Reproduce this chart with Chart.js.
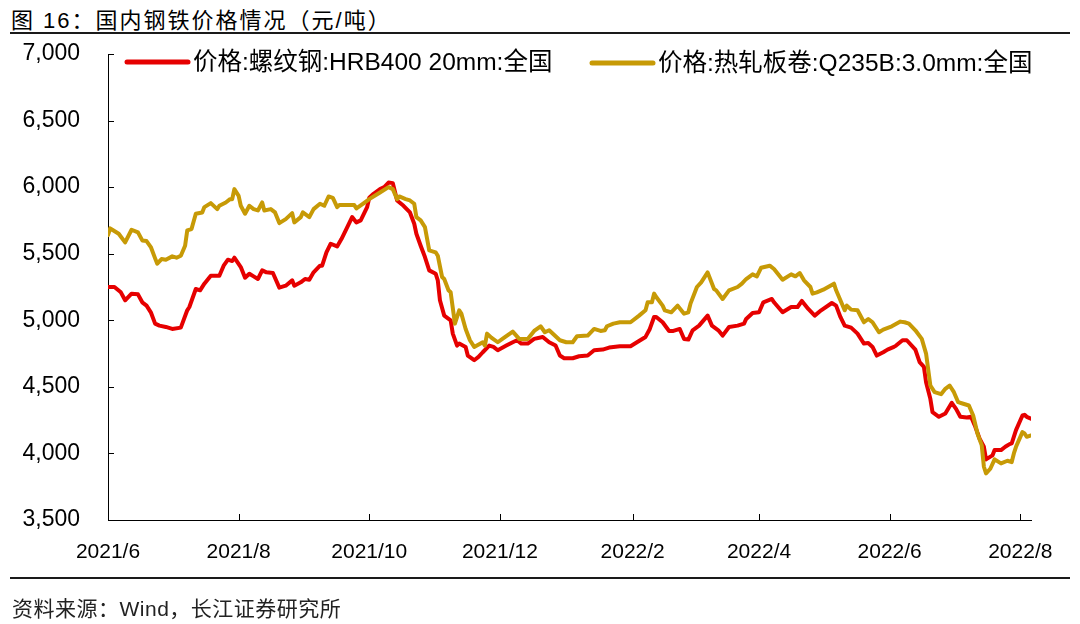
<!DOCTYPE html>
<html>
<head>
<meta charset="utf-8">
<script src="https://cdn.jsdelivr.net/npm/chart.js@4/dist/chart.umd.min.js"></script>
<style>
    body { margin: 0; background: #fff; width: 1080px; height: 624px; overflow: hidden; position: relative; font-family: "Liberation Sans", "Noto Sans CJK SC", sans-serif; }
    #title { position: absolute; left: 11px; top: 2px; font-size: 22px; letter-spacing: 2px; color: #000; white-space: pre; }
    #topline { position: absolute; left: 10px; top: 32px; width: 1060px; height: 2px; background: #1a1a1a; }
    #bottomline { position: absolute; left: 10px; top: 577px; width: 1060px; height: 2px; background: #1a1a1a; }
    #source { position: absolute; left: 12px; top: 592px; font-size: 21px; letter-spacing: 0.5px; color: #222; }
    #wrap { position: absolute; left: 0; top: 0; width: 1080px; height: 624px; }
</style>
</head>
<body>
<div id="title">图 16：国内钢铁价格情况（元/吨）</div>
<div id="topline"></div>
<div id="wrap"><canvas id="steelChart"></canvas></div>
<div id="bottomline"></div>
<div id="source">资料来源：Wind，长江证券研究所</div>
<script>
    // x values are days counted from 2021-06-01
    const tickDays = [0, 61, 122, 183, 245, 304, 365, 426];
    const tickLabels = ['2021/6', '2021/8', '2021/10', '2021/12', '2022/2', '2022/4', '2022/6', '2022/8'];
    const yTicks = [3500, 4000, 4500, 5000, 5500, 6000, 6500, 7000];

    const seriesNames = ['价格:螺纹钢:HRB400 20mm:全国', '价格:热轧板卷:Q235B:3.0mm:全国'];

    // 螺纹钢
    const rebarDays = [0,3,6,8,11,14,16,18,20,22,24,27,30,34,37,38,41,43,45,48,52,54,56,58,59,62,64,66,68,70,72,74,77,80,83,86,87,90,92,94,96,99,100,102,104,107,109,111,114,116,118,121,122,124,127,129,131,133,135,138,141,143,144,146,148,150,153,154,155,157,160,161,163,164,167,168,171,173,175,178,180,182,186,189,191,193,196,199,203,206,209,211,213,217,220,224,227,231,234,239,244,247,251,253,255,256,259,262,264,267,269,271,273,276,280,282,285,287,290,294,297,298,301,304,306,310,311,315,319,322,324,327,330,333,338,340,342,344,347,350,353,355,357,359,362,364,367,368,371,373,377,379,381,382,384,385,388,391,394,396,398,401,403,405,407,409,410,413,414,417,419,421,422,424,427,428,429,431];
    const rebarPrice = [5250,5250,5210,5150,5200,5195,5135,5110,5060,4975,4960,4950,4935,4945,5075,5100,5235,5225,5275,5335,5335,5410,5455,5445,5470,5400,5320,5350,5330,5310,5375,5360,5355,5245,5260,5300,5260,5285,5310,5305,5360,5410,5410,5510,5575,5555,5610,5675,5775,5735,5750,5850,5920,5950,5985,6000,6035,6030,5900,5860,5810,5725,5650,5560,5475,5375,5350,5300,5150,5035,5000,4900,4810,4825,4800,4735,4700,4725,4760,4810,4800,4775,4810,4835,4850,4825,4825,4860,4875,4835,4810,4735,4715,4715,4730,4735,4775,4780,4795,4805,4805,4835,4875,4935,5025,5025,4985,4920,4920,4935,4860,4855,4925,4960,5035,4960,4925,4885,4950,4960,4975,5010,5055,5060,5135,5160,5135,5060,5100,5100,5145,5085,5035,5075,5130,5110,5025,4960,4945,4900,4825,4830,4800,4735,4760,4780,4800,4810,4850,4850,4780,4685,4650,4535,4410,4310,4275,4300,4380,4335,4275,4270,4275,4200,4110,4050,3955,3985,4025,4025,4050,4070,4075,4175,4285,4290,4275,4260];

    // 热轧板卷
    const hrcDays = [0,1,2,5,8,11,14,16,18,20,22,23,25,27,30,32,34,36,37,39,41,44,45,48,51,52,55,57,58,59,61,62,64,66,68,70,72,73,76,78,80,83,86,87,90,91,94,96,99,101,103,105,107,108,115,116,119,122,127,131,133,135,136,139,141,143,144,146,148,150,153,154,156,157,159,160,162,164,165,167,169,171,175,176,177,179,182,185,189,192,196,199,202,204,206,209,211,214,217,219,224,227,230,232,233,236,239,244,248,251,252,254,255,256,259,260,263,266,269,271,272,275,277,280,283,284,287,290,294,296,298,301,303,305,309,311,315,319,321,323,325,328,329,331,334,339,340,342,344,345,347,350,353,355,357,360,362,366,370,372,374,377,380,382,384,386,389,391,393,395,397,399,402,404,406,408,409,410,412,414,417,420,422,423,424,427,428,429,431];
    const hrcPrice = [5640,5690,5680,5650,5585,5680,5660,5600,5595,5550,5465,5425,5460,5455,5480,5470,5485,5560,5675,5685,5800,5810,5850,5880,5835,5860,5885,5910,5910,5985,5935,5860,5800,5860,5835,5825,5885,5825,5835,5810,5730,5760,5805,5735,5775,5810,5775,5835,5875,5860,5930,5920,5850,5865,5865,5840,5875,5910,5960,6000,5985,5910,5930,5910,5900,5875,5775,5750,5700,5525,5510,5485,5325,5310,5225,5210,4975,5075,5050,4935,4850,4800,4835,4810,4900,4870,4835,4870,4915,4860,4860,4920,4955,4910,4925,4880,4850,4835,4835,4880,4885,4935,4920,4925,4955,4975,4985,4985,5035,5075,5135,5135,5200,5175,5110,5075,5060,5110,5050,5060,5125,5250,5285,5360,5235,5225,5160,5225,5250,5275,5310,5345,5330,5395,5410,5385,5305,5345,5330,5355,5300,5250,5200,5210,5230,5275,5225,5150,5075,5110,5080,5075,4985,5010,4985,4910,4930,4955,4990,4985,4975,4925,4860,4750,4510,4460,4445,4485,4510,4460,4385,4375,4360,4285,4150,4060,3900,3850,3885,3955,3925,3945,3935,4000,4050,4160,4150,4125,4135];

    const colors = ['#e60000', '#c79a06'];

    function toPoints(days, values) {
        return days.map((d, i) => ({ x: d, y: values[i] }));
    }

    // legend drawn inside the plot, plus short inward tick marks
    const decorPlugin = {
        id: 'decor',
        afterDraw(chart) {
            const ctx = chart.ctx;
            const area = chart.chartArea;
            const xs = chart.scales.x;
            const ys = chart.scales.y;
            ctx.save();
            ctx.strokeStyle = '#000';
            ctx.lineWidth = 1;
            yTicks.forEach(v => {
                const py = Math.round(ys.getPixelForValue(v)) + 0.5;
                ctx.beginPath();
                ctx.moveTo(area.left, py);
                ctx.lineTo(area.left + 6, py);
                ctx.stroke();
            });
            tickDays.forEach(d => {
                const px = Math.round(xs.getPixelForValue(d)) + 0.5;
                ctx.beginPath();
                ctx.moveTo(px, area.bottom);
                ctx.lineTo(px, area.bottom - 6);
                ctx.stroke();
            });

            const items = [
                { x: area.left + 19, y: 62 },
                { x: area.left + 484, y: 63 }
            ];
            ctx.font = '24.5px "Liberation Sans", "Noto Sans CJK SC", sans-serif';
            ctx.textBaseline = 'middle';
            ctx.fillStyle = '#000';
            items.forEach((it, i) => {
                ctx.strokeStyle = colors[i];
                ctx.lineWidth = 5;
                ctx.lineCap = 'round';
                ctx.beginPath();
                ctx.moveTo(it.x, it.y);
                ctx.lineTo(it.x + 61, it.y);
                ctx.stroke();
                ctx.fillText(seriesNames[i], it.x + 66, it.y + 1);
            });
            ctx.restore();
        }
    };

    const ctx = document.getElementById('steelChart').getContext('2d');
    new Chart(ctx, {
        type: 'line',
        data: {
            datasets: [{
                label: seriesNames[0],
                data: toPoints(rebarDays, rebarPrice),
                borderColor: colors[0],
                borderWidth: 4,
                pointRadius: 0,
                tension: 0,
                order: 2
            }, {
                label: seriesNames[1],
                data: toPoints(hrcDays, hrcPrice),
                borderColor: colors[1],
                borderWidth: 4,
                pointRadius: 0,
                tension: 0,
                order: 1
            }]
        },
        options: {
            responsive: true,
            maintainAspectRatio: false,
            animation: false,
            layout: { padding: { left: 0, right: 49, top: 54, bottom: 0 } },
            plugins: {
                legend: { display: false },
                tooltip: { enabled: false }
            },
            elements: { line: { borderJoinStyle: 'round', borderCapStyle: 'round' } },
            scales: {
                x: {
                    type: 'linear',
                    min: 0,
                    max: 431,
                    afterBuildTicks: function (scale) {
                        scale.ticks = tickDays.map(d => ({ value: d }));
                    },
                    afterFit: function (scale) {
                        scale.height = 104;
                    },
                    grid: { display: false, drawTicks: false },
                    border: { display: true, color: '#000', width: 1 },
                    ticks: {
                        autoSkip: false,
                        maxRotation: 0,
                        padding: 20,
                        color: '#000',
                        font: { size: 21, family: '"Liberation Sans", Arial, sans-serif' },
                        callback: function (value) {
                            const i = tickDays.indexOf(value);
                            return i >= 0 ? tickLabels[i] : '';
                        }
                    }
                },
                y: {
                    min: 3500,
                    max: 7000,
                    afterBuildTicks: function (scale) {
                        scale.ticks = yTicks.map(v => ({ value: v }));
                    },
                    afterFit: function (scale) {
                        scale.width = 108;
                    },
                    grid: { display: false, drawTicks: false },
                    border: { display: true, color: '#000', width: 1 },
                    ticks: {
                        padding: 28,
                        color: '#000',
                        font: { size: 23, family: '"Liberation Sans", Arial, sans-serif' },
                        callback: function (value) {
                            return value.toLocaleString('en-US');
                        }
                    }
                }
            }
        },
        plugins: [decorPlugin]
    });
</script>
</body>
</html>
